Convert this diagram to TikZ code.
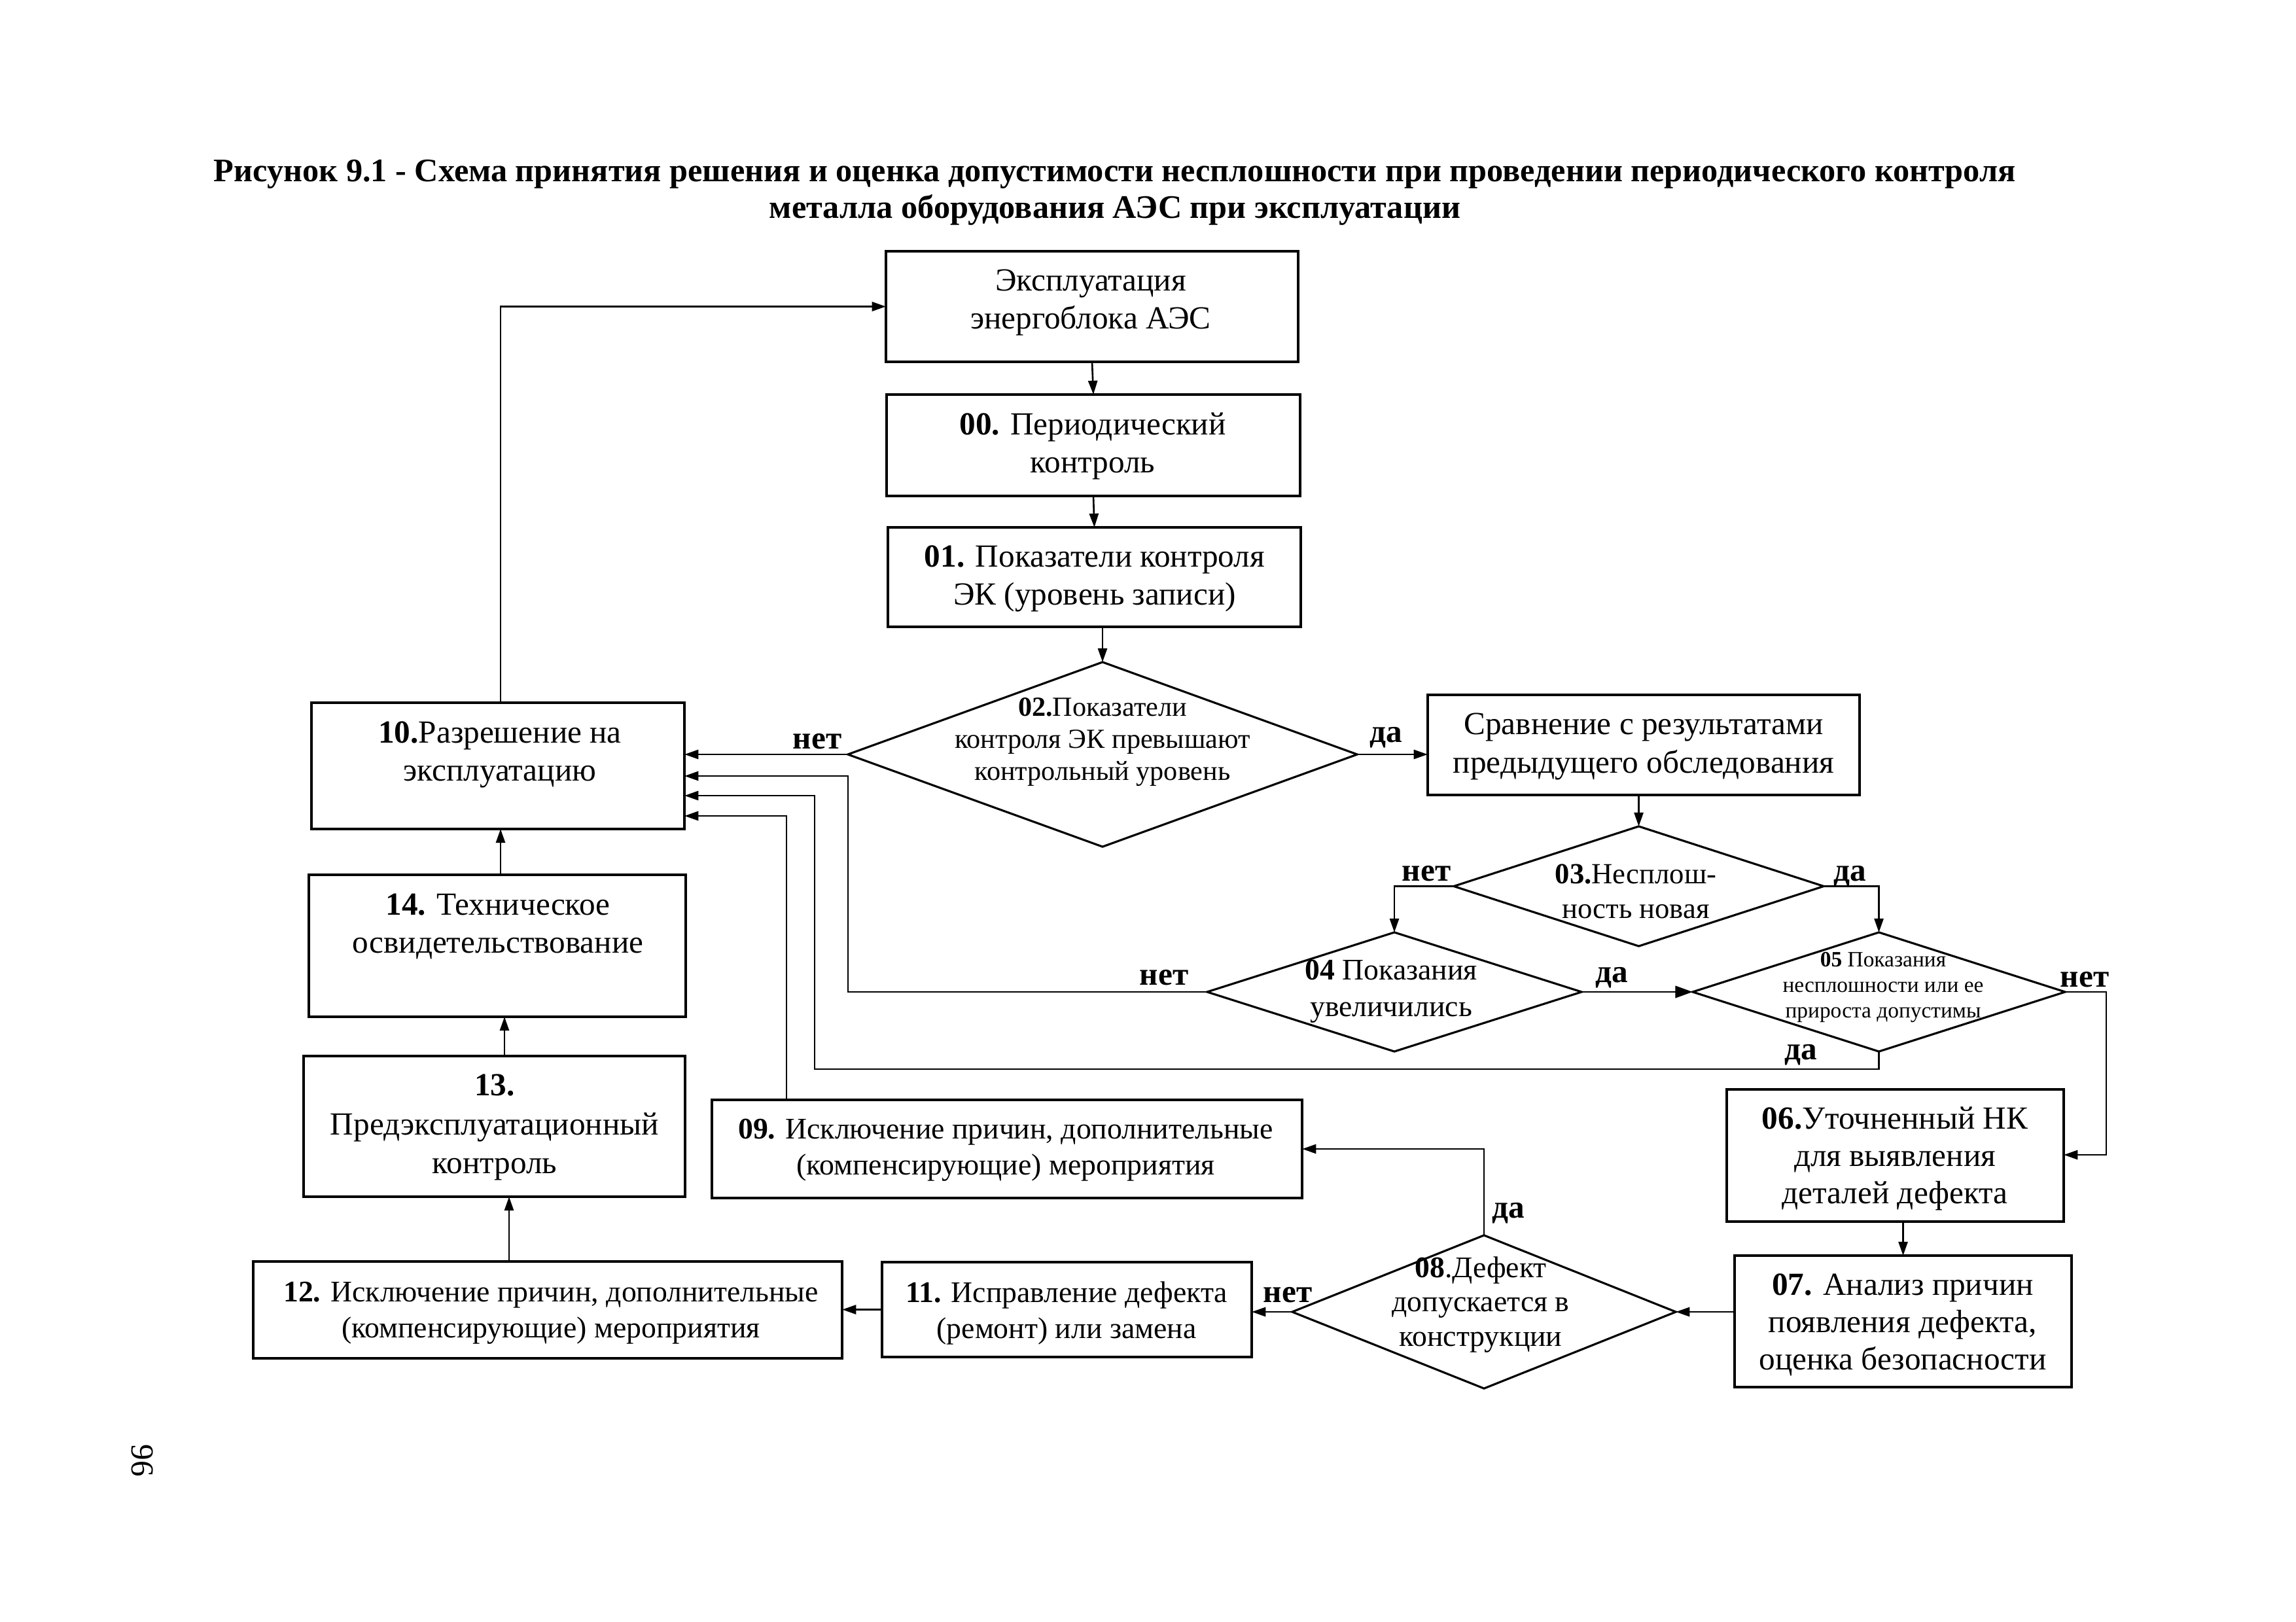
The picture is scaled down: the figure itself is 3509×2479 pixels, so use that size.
\documentclass[tikz,border=0pt]{standalone}
\usepackage{fontspec}
\setmainfont{Liberation Serif}
\usetikzlibrary{shapes.geometric,arrows.meta,calc}
\newcommand\fsz[2]{\fontsize{#1}{#2}\selectfont}
\tikzset{
  box/.style={draw, rectangle, line width=1.25pt, inner sep=0pt, outer sep=0pt},
  dia/.style={draw, diamond, line width=0.9pt, inner sep=0pt, outer sep=0pt},
  txt/.style={align=center, inner sep=0pt, font=\fsz{14}{16.5}},
  txtsm/.style={align=center, inner sep=0pt, font=\fsz{13}{15.6}},
  lbl/.style={inner sep=0pt, font=\fsz{14}{16}\bfseries},
  ln/.style={line width=0.75pt},
  arr/.style={line width=0.75pt, -{Triangle[length=6pt,width=4pt]}},
  bigarr/.style={line width=0.75pt, -{Triangle[length=7.5pt,width=5.2pt]}},
}
\begin{document}
\begin{tikzpicture}[x=0.01cm, y=-0.01cm]
\useasboundingbox (0,0) rectangle (3509,2479);
\fill[white] (0,0) rectangle (3509,2479);

% title and page number
\node[align=center, inner sep=0pt, font=\fsz{14.3}{16}\bfseries] (title) at (1704,294)
  {Рисунок 9.1 - Схема принятия решения и оценка допустимости несплошности при проведении периодического контроля\\металла оборудования АЭС при эксплуатации};
\node[rotate=-90, inner sep=0pt, font=\fsz{14}{16}] (page) at (218,2232) {96};

% boxes
\node[box, minimum width=6.30cm, minimum height=1.69cm] (bE)  at (1669,468.5) {};
\node[box, minimum width=6.32cm, minimum height=1.55cm] (b00) at (1671,680.5) {};
\node[box, minimum width=6.31cm, minimum height=1.52cm] (b01) at (1672.5,882) {};
\node[box, minimum width=6.60cm, minimum height=1.53cm] (bS)  at (2512,1138.5) {};
\node[box, minimum width=5.70cm, minimum height=1.93cm] (b10) at (761,1170.5) {};
\node[box, minimum width=5.76cm, minimum height=2.17cm] (b14) at (760,1445.5) {};
\node[box, minimum width=5.83cm, minimum height=2.15cm] (b13) at (755.5,1721.5) {};
\node[box, minimum width=9.00cm, minimum height=1.48cm] (b12) at (837,2002) {};
\node[box, minimum width=5.65cm, minimum height=1.45cm] (b11) at (1630.5,2001.5) {};
\node[box, minimum width=9.02cm, minimum height=1.50cm] (b09) at (1539,1756) {};
\node[box, minimum width=5.15cm, minimum height=2.02cm] (b06) at (2896.5,1766) {};
\node[box, minimum width=5.15cm, minimum height=2.01cm] (b07) at (2908.5,2019.5) {};

% diamonds
\node[dia, minimum width=7.78cm, minimum height=2.82cm] (d02) at (1685,1153) {};
\node[dia, minimum width=5.65cm, minimum height=1.83cm] (d03) at (2504.5,1354.5) {};
\node[dia, minimum width=5.72cm, minimum height=1.82cm] (d04) at (2131,1516) {};
\node[dia, minimum width=5.69cm, minimum height=1.82cm] (d05) at (2871.5,1516) {};
\node[dia, minimum width=5.86cm, minimum height=2.34cm] (d08) at (2268,2005) {};

% texts
\node[txt] (tE)  at (1667,462) {Эксплуатация\\энергоблока АЭС};
\node[txt] (t00) at (1670,682) {\textbf{00.} Периодический\\контроль};
\node[txt] (t01) at (1673,884) {\textbf{01.} Показатели контроля\\ЭК (уровень записи)};
\node[txt] (tS)  at (2512,1141) {Сравнение с результатами\\предыдущего обследования};
\node[txt] (t10) at (764,1153) {\textbf{10.}Разрешение на\\эксплуатацию};
\node[txt] (t14) at (761,1416) {\textbf{14.} Техническое\\освидетельствование};
\node[txt, font=\fsz{14}{17}] (t13) at (756,1723) {\textbf{13.}\\Предэксплуатационный\\контроль};
\node[txtsm] (t12) at (842,2007) {\textbf{12.} Исключение причин, дополнительные\\(компенсирующие) мероприятия};
\node[txtsm] (t11) at (1630,2007) {\textbf{11.} Исправление дефекта\\(ремонт) или замена};
\node[txtsm] (t09) at (1537,1758) {\textbf{09.} Исключение причин, дополнительные\\(компенсирующие) мероприятия};
\node[txt, font=\fsz{14}{16.2}] (t06) at (2896,1771) {\textbf{06.}Уточненный НК\\для выявления\\деталей дефекта};
\node[txt, font=\fsz{14}{16.2}] (t07) at (2908,2025) {\textbf{07.} Анализ причин\\появления дефекта,\\оценка безопасности};
\node[txt, font=\fsz{12}{14}] (t02) at (1685,1134) {\textbf{02.}Показатели\\контроля ЭК превышают\\контрольный уровень};
\node[txt, font=\fsz{12.7}{15}] (t03) at (2500,1362) {\textbf{03.}Несплош-\\ность новая};
\node[txt, font=\fsz{13}{16}] (t04) at (2126,1515) {\textbf{04} Показания\\увеличились};
\node[txt, font=\fsz{9.5}{11}] (t05) at (2878,1509) {\textbf{05} Показания\\несплошности или ее\\прироста допустимы};
\node[txt, font=\fsz{13}{15}] (t08) at (2263,1994) {\textbf{08}.Дефект\\допускается в\\конструкции};

% labels
\node[lbl] (l02n) at (1249,1133) {нет};
\node[lbl] (l02d) at (2118,1127) {да};
\node[lbl] (l03n) at (2180,1335) {нет};
\node[lbl] (l03d) at (2827,1339) {да};
\node[lbl] (l04n) at (1779,1494) {нет};
\node[lbl] (l04d) at (2463,1494) {да};
\node[lbl] (l05n) at (3186,1497) {нет};
\node[lbl] (l05d) at (2752,1612) {да};
\node[lbl] (l08d) at (2305,1854) {да};
\node[lbl] (l08n) at (1968,1979) {нет};

% bend coordinates
\coordinate (r1) at (1296,1186);
\coordinate (r2a) at (1245,1634);
\coordinate (r2b) at (1245,1216);
\coordinate (r3) at (3219,1765);
\coordinate (r4) at (1202,1247);
\coordinate (x12) at (778,0);
\coordinate (x13) at (771,0);
\coordinate (x14) at (765,0);

% connectors
\draw[arr] (bE.south) -- (b00.north);
\draw[arr] (b00.south -| b00.north) -- (b01.north);
\draw[arr] (b01.south -| d02.north) -- (d02.north);
\draw[arr] (d02.west) -- (d02.west -| b10.east);
\draw[arr] (d02.east) -- (d02.east -| bS.west);
\draw[arr] (bS.south -| d03.north) -- (d03.north);
\draw[arr] (d03.west) -| (d04.north);
\draw[arr] (d03.east) -| (d05.north);
\draw[arr] (d04.west) -| (r1) -- (r1 -| b10.east);
\draw[bigarr] (d04.east) -- (d05.west);
\draw[arr] (d05.south) |- (r2a) -- (r2b) -- (r2b -| b10.east);
\draw[arr] (d05.east) -| (r3) -- (r3 -| b06.east);
\draw[arr] (b06.south -| b07.north) -- (b07.north);
\draw[arr] (b07.west |- d08.east) -- (d08.east);
\draw[arr] (d08.north) |- (b09.east);
\draw[arr] (d08.west) -- (d08.west -| b11.east);
\draw[arr] (b11.west) -- (b11.west -| b12.east);
\draw[arr] (b12.north -| x12) -- (b13.south -| x12);
\draw[arr] (b13.north -| x13) -- (b14.south -| x13);
\draw[arr] (b14.north -| x14) -- (b10.south -| x14);
\draw[arr] (b10.north -| x14) |- (bE.west);
\draw[arr] (b09.north -| r4) -- (r4) -- (r4 -| b10.east);
\end{tikzpicture}
\end{document}
